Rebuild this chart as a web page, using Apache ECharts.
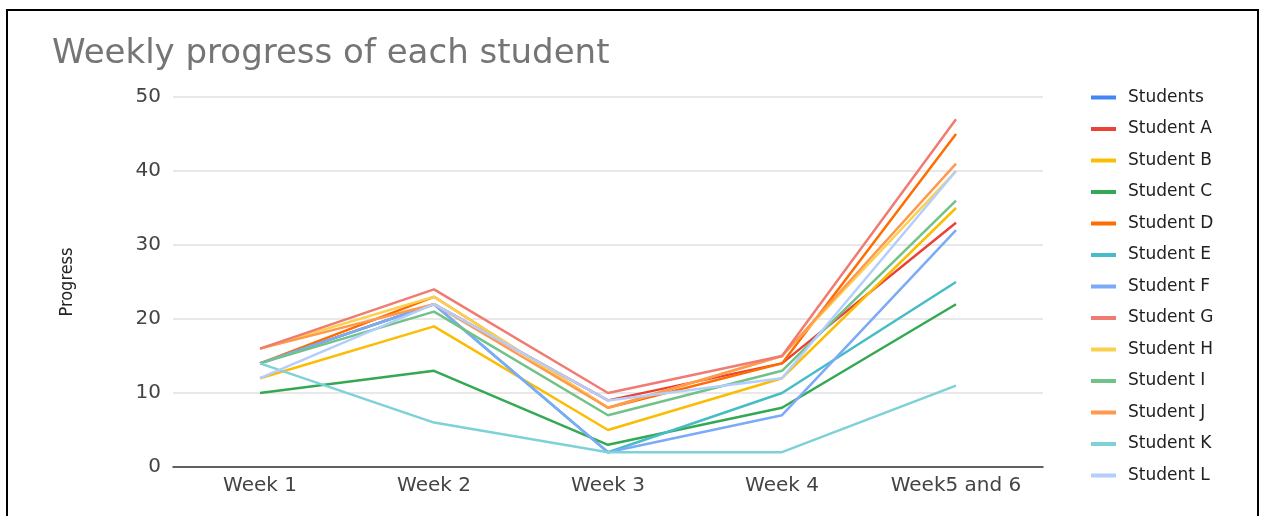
<!DOCTYPE html>
<html>
<head>
<meta charset="utf-8">
<script src="https://cdn.jsdelivr.net/npm/echarts@6/dist/echarts.min.js"></script>
<style>
  html, body { margin: 0; padding: 0; background: #fff; }
  #main { width: 1266px; height: 516px; }
</style>
</head>
<body>
<div id="main"></div>
<script>
// Categories along the x axis
var weeks = ['Week 1', 'Week 2', 'Week 3', 'Week 4', 'Week5 and 6'];

// Series names and their values
var names = ['Students', 'Student A', 'Student B', 'Student C', 'Student D', 'Student E',
    'Student F', 'Student G', 'Student H', 'Student I', 'Student J', 'Student K', 'Student L'];

var students = [];
var studentA = [14, 22, 9, 14, 33];
var studentB = [12, 19, 5, 12, 35];
var studentC = [10, 13, 3, 8, 22];
var studentD = [14, 23, 8, 14, 45];
var studentE = [14, 22, 2, 10, 25];
var studentF = [14, 22, 2, 7, 32];
var studentG = [16, 24, 10, 15, 47];
var studentH = [16, 23, 8, 15, 40];
var studentI = [14, 21, 7, 13, 36];
var studentJ = [16, 22, 8, 15, 41];
var studentK = [14, 6, 2, 2, 11];
var studentL = [12, 22, 9, 12, 40];

var yTicks = [0, 10, 20, 30, 40, 50];

var values = [students, studentA, studentB, studentC, studentD, studentE, studentF,
    studentG, studentH, studentI, studentJ, studentK, studentL];

var colors = ['#4285f4', '#ea4335', '#fbbc04', '#34a853', '#ff6d01', '#46bdc6',
    '#7baaf7', '#f07b72', '#fcd04f', '#71c287', '#ff994d', '#7ed1d7', '#b3cefb'];

var myChart = echarts.init(document.getElementById('main'));

var series = names.map(function (name, i) {
    return {
        name: name,
        type: 'line',
        data: values[i],
        showSymbol: false,
        symbol: 'none',
        lineStyle: { width: 2.5 },
        z: 2 + (i === 7 ? 20 : i)
    };
});

var option = {
    animation: false,
    color: colors,
    textStyle: { fontFamily: 'DejaVu Sans, sans-serif' },
    title: {
        text: 'Weekly progress of each student',
        left: 47,
        top: 32,
        textStyle: { fontSize: 34, fontWeight: 'normal', color: '#757575' }
    },
    graphic: [{
        type: 'rect',
        shape: { x: 7, y: 10, width: 1251, height: 530 },
        style: { fill: 'none', stroke: '#000', lineWidth: 2 },
        silent: true
    }],
    legend: {
        orient: 'vertical',
        left: 1086,
        top: 84,
        icon: 'rect',
        itemWidth: 25,
        itemHeight: 4,
        itemGap: 14.5,
        textStyle: { fontSize: 17, color: '#222', padding: [0, 0, 0, 7] },
        data: names
    },
    grid: { left: 173, right: 223, top: 97, bottom: 49 },
    xAxis: {
        type: 'category',
        data: weeks,
        boundaryGap: true,
        axisLine: { lineStyle: { color: '#333', width: 1.5 } },
        axisTick: { show: false },
        axisLabel: { fontSize: 20, color: '#444', margin: 9 }
    },
    yAxis: {
        type: 'value',
        min: yTicks[0],
        max: yTicks[yTicks.length - 1],
        interval: 10,
        name: 'Progress',
        nameLocation: 'middle',
        nameGap: 97,
        nameTextStyle: { fontSize: 18, color: '#222', fontFamily: 'DejaVu Sans Condensed' },
        axisLine: { show: false },
        axisTick: { show: false },
        axisLabel: { fontSize: 20, color: '#444', margin: 12 },
        splitLine: { lineStyle: { color: '#e0e0e0', width: 1.5 } }
    },
    series: series
};

myChart.setOption(option);
</script>
</body>
</html>
